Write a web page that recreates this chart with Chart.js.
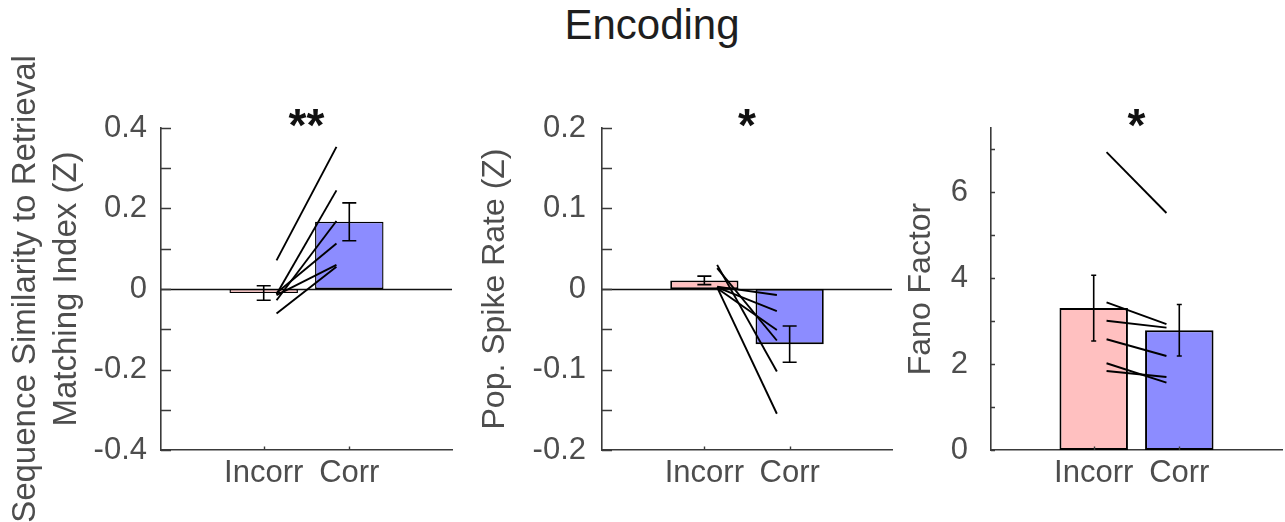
<!DOCTYPE html>
<html>
<head>
<meta charset="utf-8">
<title>Encoding</title>
<script src="https://cdn.jsdelivr.net/npm/chart.js@4.4.1/dist/chart.umd.min.js"></script>
<style>
  html, body { margin: 0; padding: 0; background: #fff; }
  body { width: 1285px; height: 522px; position: relative; overflow: hidden;
         font-family: "Liberation Sans", Arial, Helvetica, sans-serif; }
  #title { position: absolute; top: 4px; left: 652px; transform: translateX(-50%);
           font-size: 42px; line-height: 42px; color: #1e1e1e; white-space: nowrap; }
  canvas { position: absolute; top: 0; }
</style>
</head>
<body>
<div id="title">Encoding</div>
<canvas id="simChart" width="460" height="522" style="left:0px"></canvas>
<canvas id="rateChart" width="426" height="522" style="left:470px"></canvas>
<canvas id="fanoChart" width="389" height="522" style="left:896px"></canvas>

<script>
// ---- data -------------------------------------------------------------
const conditions = ['Incorr', 'Corr'];

// Sequence similarity to retrieval matching index (Z)
const simMeans = [-0.01, 0.167];
const simSem = [0.018, 0.047];
const simIncorr = [0.071, -0.013, -0.028, -0.010, -0.015, -0.061];
const simCorr = [0.353, 0.245, 0.169, 0.113, 0.060, 0.055];
const simTickLabels = ['-0.4', '-0.2', '0', '0.2', '0.4'];

// Population spike rate (Z)
const rateMeans = [0.0107, -0.0685];
const rateSem = [0.0053, 0.0225];
const rateIncorr = [0.030, 0.026, 0.002, 0.003, 0.002, 0.001];
const rateCorr = [-0.1025, -0.064, -0.155, -0.0075, -0.0275, -0.051];
const rateTickLabels = ['-0.2', '-0.1', '0', '0.1', '0.2'];

// Fano factor
const fanoMeans = [3.305, 2.79];
const fanoSem = [0.765, 0.6];
const fanoIncorr = [6.94, 3.44, 3.01, 2.58, 2.02, 1.84];
const fanoCorr = [5.52, 2.93, 2.85, 2.19, 1.57, 1.70];
const fanoTickLabels = ['0', '2', '4', '6'];

const significance = ['**', '*', '*'];

// ---- style ------------------------------------------------------------
const FONT = '"Liberation Sans", Arial, Helvetica, sans-serif';
const TEXT = '#4d4d4d';
const AXIS = '#3a3a3a';
const BAR_COLORS = ['#ffc0c0', '#8c8cff'];
const PAIR_X = [1.15, 1.85];     // where each subject's paired line starts/ends
const X_RANGE = [-0.2, 3.2];

Chart.defaults.font.family = FONT;
Chart.defaults.color = TEXT;

// zero line, error bars, inward ticks and significance marks
const decorations = {
  id: 'decorations',
  beforeDatasetsDraw(chart, args, o) {
    if (!o.zeroLine) return;
    const { ctx, chartArea: a, scales: { y } } = chart;
    const py = Math.round(y.getPixelForValue(0)) + 0.5;
    ctx.save();
    ctx.strokeStyle = '#111';
    ctx.lineWidth = 1.3;
    ctx.beginPath();
    ctx.moveTo(a.left, py);
    ctx.lineTo(a.right, py);
    ctx.stroke();
    ctx.restore();
  },
  afterDatasetsDraw(chart, args, o) {
    const { ctx, scales: { x, y } } = chart;
    ctx.save();
    ctx.strokeStyle = '#000';
    ctx.lineWidth = 1.6;
    o.means.forEach((m, i) => {
      const px = x.getPixelForValue(i + 1);
      const top = y.getPixelForValue(m + o.sem[i]);
      const bot = y.getPixelForValue(m - o.sem[i]);
      ctx.beginPath();
      ctx.moveTo(px, top); ctx.lineTo(px, bot);
      ctx.moveTo(px - o.cap, top); ctx.lineTo(px + o.cap, top);
      ctx.moveTo(px - o.cap, bot); ctx.lineTo(px + o.cap, bot);
      ctx.stroke();
    });
    ctx.restore();
  },
  afterDraw(chart, args, o) {
    const { ctx, chartArea: a, scales: { x, y } } = chart;
    ctx.save();
    ctx.strokeStyle = AXIS;
    ctx.lineWidth = 1.4;
    ctx.beginPath();
    y.ticks.forEach(t => {
      const py = Math.round(y.getPixelForValue(t.value)) + 0.5;
      ctx.moveTo(a.left, py);
      ctx.lineTo(a.left + o.yTickLen, py);
    });
    x.ticks.forEach(t => {
      const px = Math.round(x.getPixelForValue(t.value)) + 0.5;
      ctx.moveTo(px, a.bottom);
      ctx.lineTo(px, a.bottom - o.xTickLen);
    });
    ctx.stroke();
    ctx.fillStyle = '#111';
    ctx.font = 'bold ' + o.starSize + 'px ' + FONT;
    ctx.textAlign = 'center';
    ctx.textBaseline = 'alphabetic';
    ctx.fillText(o.stars, x.getPixelForValue(1.5), o.starBaseline);
    ctx.restore();
  }
};

function makePanel(id, p) {
  const tickValues = p.tickLabels.map(Number);
  const pairs = p.incorr.map((v, i) => ({
    type: 'line',
    data: [{ x: PAIR_X[0], y: v }, { x: PAIR_X[1], y: p.corr[i] }],
    borderColor: '#000',
    borderWidth: 1.9,
    pointRadius: 0,
    fill: false,
    order: 1
  }));
  return new Chart(document.getElementById(id), {
    type: 'bar',
    data: {
      datasets: [{
        type: 'bar',
        data: p.means.map((m, i) => ({ x: i + 1, y: m })),
        backgroundColor: BAR_COLORS,
        borderColor: '#000',
        borderWidth: p.barBorder,
        borderSkipped: false,
        categoryPercentage: 0.8,
        barPercentage: 1,
        order: 2
      }, ...pairs]
    },
    options: {
      responsive: false,
      animation: false,
      events: [],
      layout: { padding: { top: 128, right: p.padRight, bottom: 0, left: 0 } },
      plugins: {
        legend: { display: false },
        tooltip: { enabled: false },
        decorations: {
          zeroLine: p.zeroLine, means: p.means, sem: p.sem, cap: p.cap,
          yTickLen: p.yTickLen, xTickLen: 3.5,
          stars: p.stars, starSize: 46, starBaseline: 141
        }
      },
      scales: {
        x: {
          type: 'linear',
          bounds: 'data',
          offset: false,
          min: X_RANGE[0],
          max: X_RANGE[1],
          grid: { display: false, drawTicks: false, offset: false },
          border: { display: true, color: AXIS, width: 1.6 },
          afterBuildTicks: s => { s.ticks = conditions.map((c, i) => ({ value: i + 1 })); },
          afterFit: s => { s.height = 72; },
          ticks: {
            autoSkip: false, maxRotation: 0, padding: 5,
            font: { size: 31 }, color: TEXT,
            callback: v => conditions[Math.round(v) - 1]
          }
        },
        y: {
          type: 'linear',
          bounds: 'data',
          min: p.yMin,
          max: p.yMax,
          grid: { display: false, drawTicks: false },
          border: { display: true, color: AXIS, width: 1.6 },
          afterFit: s => { s.width = p.yWidth; },
          ticks: {
            stepSize: p.yStep,
            includeBounds: false,
            padding: p.labelPad,
            font: { size: 31 }, color: TEXT,
            callback: v => {
              const k = tickValues.findIndex(t => Math.abs(t - v) < 1e-6);
              return k >= 0 ? p.tickLabels[k] : '';
            }
          },
          title: {
            display: true,
            text: p.yTitle,
            color: TEXT,
            font: { size: p.titleSize, lineHeight: 1.25 },
            padding: { top: 5, bottom: 0 }
          }
        }
      }
    },
    plugins: [decorations]
  });
}

makePanel('simChart', {
  means: simMeans, sem: simSem, incorr: simIncorr, corr: simCorr,
  tickLabels: simTickLabels, yMin: -0.4, yMax: 0.4, yStep: 0.1,
  yTitle: ['Sequence Similarity to Retrieval', 'Matching Index (Z)'], titleSize: 33,
  yWidth: 161, labelPad: 14, padRight: 8, yTickLen: 10, cap: 7, barBorder: 1.4,
  zeroLine: true, stars: significance[0]
});

makePanel('rateChart', {
  means: rateMeans, sem: rateSem, incorr: rateIncorr, corr: rateCorr,
  tickLabels: rateTickLabels, yMin: -0.2, yMax: 0.2, yStep: 0.05,
  yTitle: 'Pop. Spike Rate (Z)', titleSize: 32,
  yWidth: 132, labelPad: 16, padRight: 4, yTickLen: 10, cap: 7, barBorder: 1.8,
  zeroLine: true, stars: significance[1]
});

makePanel('fanoChart', {
  means: fanoMeans, sem: fanoSem, incorr: fanoIncorr, corr: fanoCorr,
  tickLabels: fanoTickLabels, yMin: 0, yMax: 7.5, yStep: 1,
  yTitle: 'Fano Factor', titleSize: 32,
  yWidth: 95, labelPad: 23, padRight: 3, yTickLen: 4, cap: 2.5, barBorder: 2,
  zeroLine: false, stars: significance[2]
});
</script>
</body>
</html>
